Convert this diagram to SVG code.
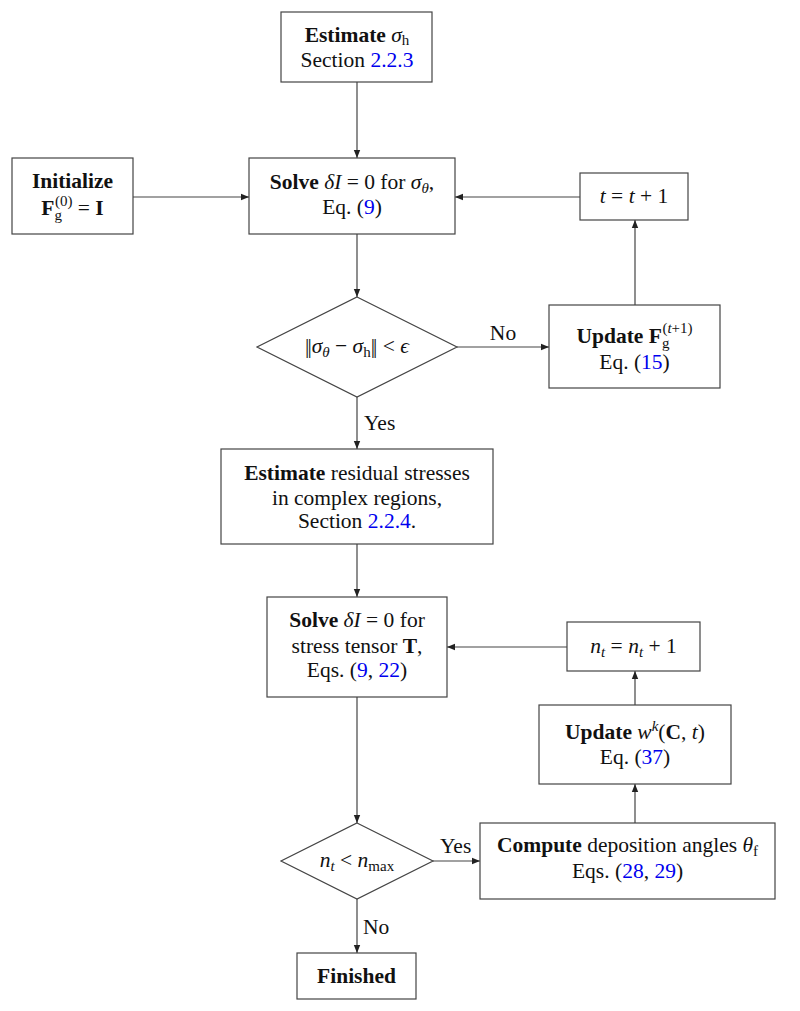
<svg xmlns="http://www.w3.org/2000/svg" width="800" height="1011" viewBox="0 0 800 1011">
<defs>
<marker id="arr" viewBox="0 0 10 10" refX="10" refY="5" markerWidth="8" markerHeight="8" markerUnits="userSpaceOnUse" orient="auto">
<path d="M0,1 L10,5 L0,9 Z" fill="#222"/>
</marker>
<style>
.box{fill:#fff;stroke:#444;stroke-width:1.2}
.c{fill:none;stroke:#444;stroke-width:1.2}
text{font-family:"Liberation Serif","DejaVu Serif",serif;font-size:21.5px;fill:#111}
.t{text-anchor:middle}
.b{font-weight:bold}
.m{font-style:italic}
.s{font-size:15px}
.l{fill:#0000ee}
</style>
</defs>
<g id="connectors">
<line class="c" x1="357" y1="82" x2="357" y2="158" marker-end="url(#arr)"/>
<line class="c" x1="133" y1="197" x2="249" y2="197" marker-end="url(#arr)"/>
<line class="c" x1="357" y1="234" x2="357" y2="297" marker-end="url(#arr)"/>
<line class="c" x1="457" y1="347" x2="549" y2="347" marker-end="url(#arr)"/>
<line class="c" x1="635" y1="305" x2="635" y2="220" marker-end="url(#arr)"/>
<line class="c" x1="580" y1="197" x2="455" y2="197" marker-end="url(#arr)"/>
<line class="c" x1="357" y1="397" x2="357" y2="449" marker-end="url(#arr)"/>
<line class="c" x1="357" y1="544" x2="357" y2="597" marker-end="url(#arr)"/>
<line class="c" x1="357" y1="697" x2="357" y2="823" marker-end="url(#arr)"/>
<line class="c" x1="433" y1="861" x2="480" y2="861" marker-end="url(#arr)"/>
<line class="c" x1="635" y1="823" x2="635" y2="784" marker-end="url(#arr)"/>
<line class="c" x1="635" y1="705" x2="635" y2="671" marker-end="url(#arr)"/>
<line class="c" x1="567" y1="647" x2="447" y2="647" marker-end="url(#arr)"/>
<line class="c" x1="357" y1="899" x2="357" y2="953" marker-end="url(#arr)"/>
<text x="503" y="340" class="t">No</text>
<text x="364" y="430">Yes</text>
<text x="440" y="853">Yes</text>
<text x="363" y="934">No</text>
</g>
<g id="estimate-sigma-h">
<rect class="box" x="281" y="12" width="151" height="70"/>
<text x="357" y="42" class="t"><tspan class="b">Estimate</tspan> <tspan class="m">σ</tspan><tspan class="s" dy="3">h</tspan></text>
<text x="357" y="67" class="t">Section <tspan class="l">2.2.3</tspan></text>
</g>
<g id="initialize">
<rect class="box" x="12" y="158" width="121" height="76"/>
<text x="72.5" y="188" class="t b">Initialize</text>
<text x="72.5" y="215" class="t"><tspan class="b">F</tspan><tspan class="s" dy="5">g</tspan><tspan class="s" dx="-7" dy="-14">(0)</tspan><tspan dy="9"> = </tspan><tspan class="b">I</tspan></text>
</g>
<g id="solve-sigma-theta">
<rect class="box" x="249" y="158" width="206" height="76"/>
<text x="352" y="189" class="t"><tspan class="b">Solve</tspan> <tspan class="m">δI</tspan> = 0 for <tspan class="m">σ</tspan><tspan class="s m" dy="4">θ</tspan><tspan dy="-4">,</tspan></text>
<text x="352" y="214" class="t">Eq. (<tspan class="l">9</tspan>)</text>
</g>
<g id="t-increment">
<rect class="box" x="580" y="173" width="108" height="47"/>
<text x="634" y="203" class="t"><tspan class="m">t</tspan> = <tspan class="m">t</tspan> + 1</text>
</g>
<g id="check-sigma">
<polygon class="box" points="357,297 457,347 357,397 257,347"/>
<text x="357" y="353" class="t">|<tspan dx="-2">|</tspan><tspan class="m">σ</tspan><tspan class="s m" dy="4">θ</tspan><tspan dy="-4"> − </tspan><tspan class="m">σ</tspan><tspan class="s" dy="4">h</tspan><tspan dy="-4">|</tspan><tspan dx="-2">| &lt; </tspan><tspan class="m">ϵ</tspan></text>
</g>
<g id="update-fg">
<rect class="box" x="549" y="305" width="171" height="83"/>
<text x="634.5" y="343" class="t"><tspan class="b">Update F</tspan><tspan class="s" dy="5">g</tspan><tspan class="s" dx="-7" dy="-15">(<tspan class="m">t</tspan>+1)</tspan></text>
<text x="634.5" y="369" class="t">Eq. (<tspan class="l">15</tspan>)</text>
</g>
<g id="estimate-residual">
<rect class="box" x="221" y="449" width="272" height="95"/>
<text x="357" y="480" class="t"><tspan class="b">Estimate</tspan> residual stresses</text>
<text x="357" y="505" class="t">in complex regions,</text>
<text x="357" y="528" class="t">Section <tspan class="l">2.2.4</tspan>.</text>
</g>
<g id="solve-T">
<rect class="box" x="267" y="597" width="180" height="100"/>
<text x="357" y="627" class="t"><tspan class="b">Solve</tspan> <tspan class="m">δI</tspan> = 0 for</text>
<text x="357" y="653" class="t">stress tensor <tspan class="b">T</tspan>,</text>
<text x="357" y="677" class="t">Eqs. (<tspan class="l">9</tspan>, <tspan class="l">22</tspan>)</text>
</g>
<g id="nt-increment">
<rect class="box" x="567" y="622" width="133" height="49"/>
<text x="633.5" y="653" class="t"><tspan class="m">n</tspan><tspan class="s m" dy="4">t</tspan><tspan dy="-4"> = </tspan><tspan class="m">n</tspan><tspan class="s m" dy="4">t</tspan><tspan dy="-4"> + 1</tspan></text>
</g>
<g id="update-w">
<rect class="box" x="539" y="705" width="192" height="79"/>
<text x="635" y="739" class="t"><tspan class="b">Update</tspan> <tspan class="m">w</tspan><tspan class="s m" dy="-8">k</tspan><tspan dy="8">(</tspan><tspan class="b">C</tspan>, <tspan class="m">t</tspan>)</text>
<text x="635" y="764" class="t">Eq. (<tspan class="l">37</tspan>)</text>
</g>
<g id="check-nt">
<polygon class="box" points="357,823 433,861 357,899 281,861"/>
<text x="357" y="867" class="t"><tspan class="m">n</tspan><tspan class="s m" dy="4">t</tspan><tspan dy="-4"> &lt; </tspan><tspan class="m">n</tspan><tspan class="s" dy="4">max</tspan></text>
</g>
<g id="compute-angles">
<rect class="box" x="480" y="823" width="295" height="76"/>
<text x="627.5" y="852" class="t"><tspan class="b">Compute</tspan> deposition angles <tspan class="m">θ</tspan><tspan class="s" dy="4">f</tspan></text>
<text x="627.5" y="878" class="t">Eqs. (<tspan class="l">28</tspan>, <tspan class="l">29</tspan>)</text>
</g>
<g id="finished">
<rect class="box" x="297" y="953" width="119" height="46"/>
<text x="356.5" y="983" class="t b">Finished</text>
</g>
</svg>
